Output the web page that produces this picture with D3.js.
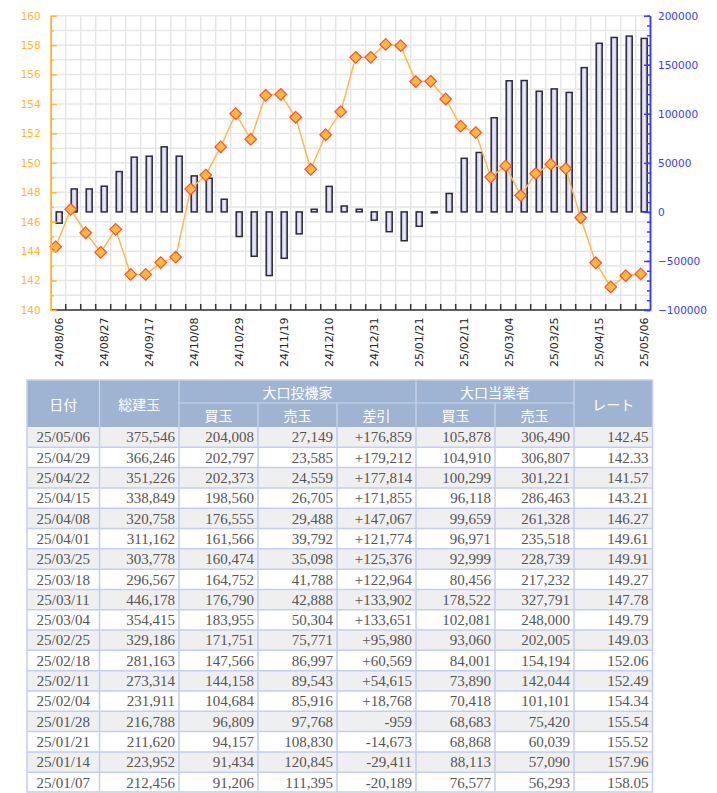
<!DOCTYPE html>
<html>
<head>
<meta charset="utf-8">
<script src="https://cdn.jsdelivr.net/npm/d3@7"></script>
<style>
body { margin: 0; background: #fff; }
svg { display: block; }
</style>
</head>
<body>
<svg id="chart" width="717" height="793"></svg>
<script>
var width = 717;
var height = 793;

// weekly dates shown on the chart (oldest first)
var weeks = ["24/08/06", "24/08/13", "24/08/20", "24/08/27", "24/09/03", "24/09/10", "24/09/17", "24/09/24",
             "24/10/01", "24/10/08", "24/10/15", "24/10/22", "24/10/29", "24/11/05", "24/11/12", "24/11/19",
             "24/11/26", "24/12/03", "24/12/10", "24/12/17", "24/12/24", "24/12/31", "25/01/07", "25/01/14",
             "25/01/21", "25/01/28", "25/02/04", "25/02/11", "25/02/18", "25/02/25", "25/03/04", "25/03/11",
             "25/03/18", "25/03/25", "25/04/01", "25/04/08", "25/04/15", "25/04/22", "25/04/29", "25/05/06"];

// weeks before the table
var earlyDiff = [-11500, 23400, 23400, 26200, 41100, 55800, 56800, 66300, 56800, 36700, 34300,
                 12900, -25100, -45200, -64900, -47300, -22400, 2700, 26000, 6000, 2700, -8400];
var earlyRate = [144.30, 146.84, 145.25, 143.92, 145.48, 142.42, 142.42, 143.22, 143.60, 148.22, 149.17,
                 151.08, 153.34, 151.60, 154.59, 154.66, 153.10, 149.56, 151.91, 153.48, 157.17, 157.17];

// table (newest first)
var tblDate = ["25/05/06", "25/04/29", "25/04/22", "25/04/15", "25/04/08", "25/04/01", "25/03/25", "25/03/18", "25/03/11",
               "25/03/04", "25/02/25", "25/02/18", "25/02/11", "25/02/04", "25/01/28", "25/01/21", "25/01/14", "25/01/07"];
var tblTotal = [375546, 366246, 351226, 338849, 320758, 311162, 303778, 296567, 446178,
                354415, 329186, 281163, 273314, 231911, 216788, 211620, 223952, 212456];
var tblSpecBuy = [204008, 202797, 202373, 198560, 176555, 161566, 160474, 164752, 176790,
                  183955, 171751, 147566, 144158, 104684, 96809, 94157, 91434, 91206];
var tblSpecSell = [27149, 23585, 24559, 26705, 29488, 39792, 35098, 41788, 42888,
                   50304, 75771, 86997, 89543, 85916, 97768, 108830, 120845, 111395];
var tblSpecDiff = [176859, 179212, 177814, 171855, 147067, 121774, 125376, 122964, 133902,
                   133651, 95980, 60569, 54615, 18768, -959, -14673, -29411, -20189];
var tblCommBuy = [105878, 104910, 100299, 96118, 99659, 96971, 92999, 80456, 178522,
                  102081, 93060, 84001, 73890, 70418, 68683, 68868, 88113, 76577];
var tblCommSell = [306490, 306807, 301221, 286463, 261328, 235518, 228739, 217232, 327791,
                   248000, 202005, 154194, 142044, 101101, 75420, 60039, 57090, 56293];
var tblRate = [142.45, 142.33, 141.57, 143.21, 146.27, 149.61, 149.91, 149.27, 147.78,
               149.79, 149.03, 152.06, 152.49, 154.34, 155.54, 155.52, 157.96, 158.05];

var diff = earlyDiff.concat(tblSpecDiff.slice().reverse());
var rate = earlyRate.concat(tblRate.slice().reverse());

var orange = "#ffb52e";
var blue = "#3a3aff";

var svg = d3.select("#chart");

// ---------- chart ----------
var plotLeft = 50.7, plotRight = 650.7, plotTop = 15.7, plotBottom = 310;

var x = d3.scaleBand().domain(weeks).range([plotLeft, plotRight]).padding(0);
var yL = d3.scaleLinear().domain([140, 160]).range([plotBottom, plotTop]);
var yR = d3.scaleLinear().domain([-100000, 200000]).range([plotBottom, plotTop]);

var defs = svg.append("defs");
var grad = defs.append("linearGradient").attr("id", "barfill")
    .attr("x1", "0").attr("x2", "1").attr("y1", "0").attr("y2", "0");
grad.append("stop").attr("offset", "0").attr("stop-color", "#a9a9d6");
grad.append("stop").attr("offset", "0.5").attr("stop-color", "#f2f2ff");
grad.append("stop").attr("offset", "1").attr("stop-color", "#a9a9d6");

// grid
var grid = svg.append("g").attr("class", "grid")
    .attr("stroke", "#e6e6e6").attr("stroke-width", 1.5);

grid.selectAll(".hgrid")
    .data(yL.ticks(20))
  .enter().append("line")
    .attr("x1", plotLeft).attr("x2", plotRight)
    .attr("y1", function(d) { return yL(d); })
    .attr("y2", function(d) { return yL(d); });

grid.selectAll(".vgrid")
    .data(weeks.slice(1))
  .enter().append("line")
    .attr("x1", function(d) { return x(d); })
    .attr("x2", function(d) { return x(d); })
    .attr("y1", plotTop).attr("y2", plotBottom);

// bars (difference, right axis)
svg.append("g").selectAll("rect")
    .data(diff)
  .enter().append("rect")
    .attr("x", function(d, i) { return x(weeks[i]) + 5.5; })
    .attr("width", 6)
    .attr("y", function(d) { return yR(Math.max(d, 0)); })
    .attr("height", function(d) { return Math.abs(yR(d) - yR(0)); })
    .attr("fill", "url(#barfill)")
    .attr("stroke", "#2b2b38")
    .attr("stroke-width", 1.5);

// rate line (left axis)
var line = d3.line()
    .x(function(d, i) { return x(weeks[i]) + 5; })
    .y(function(d) { return yL(d); });

svg.append("path")
    .datum(rate)
    .attr("d", line)
    .attr("fill", "none")
    .attr("stroke", "#ffb84d")
    .attr("stroke-width", 1.5);

svg.append("g").selectAll("path")
    .data(rate)
  .enter().append("path")
    .attr("transform", function(d, i) { return "translate(" + (x(weeks[i]) + 5) + "," + yL(d) + ")"; })
    .attr("d", "M0,-5.8L5.8,0L0,5.8L-5.8,0Z")
    .attr("fill", "#ffbb35")
    .attr("stroke", "#ff4b3a")
    .attr("stroke-width", 1.2);

// x axis
var xAxis = svg.append("g").attr("class", "x-axis");
xAxis.append("line")
    .attr("x1", plotLeft).attr("x2", plotRight)
    .attr("y1", plotBottom).attr("y2", plotBottom)
    .attr("stroke", "#333").attr("stroke-width", 1.5);

xAxis.selectAll(".tick")
    .data(weeks.slice(1))
  .enter().append("line")
    .attr("x1", function(d) { return x(d); })
    .attr("x2", function(d) { return x(d); })
    .attr("y1", plotBottom - 6).attr("y2", plotBottom)
    .attr("stroke", "#333").attr("stroke-width", 1.5);

xAxis.selectAll("text")
    .data(weeks.filter(function(d, i) { return i % 3 == 0; }))
  .enter().append("text")
    .attr("transform", function(d) { return "translate(" + (x(d) + 8.5) + "," + (plotBottom + 7.5) + ") rotate(-90)"; })
    .attr("dy", "0.35em")
    .attr("text-anchor", "end")
    .attr("font-family", "DejaVu Sans")
    .attr("font-size", "11px")
    .attr("fill", "#222")
    .text(function(d) { return d; });

// left axis (rate)
function styleAxis(g, color) {
    g.select(".domain").attr("stroke", color).attr("stroke-width", 1.5);
    g.selectAll(".tick line").attr("stroke", color).attr("stroke-width", 1.5);
    g.selectAll(".tick text").attr("fill", color);
    g.attr("font-family", "DejaVu Sans").attr("font-size", "10.5px");
}

svg.append("g")
    .attr("transform", "translate(" + plotLeft + ",0)")
    .call(d3.axisLeft(yL).tickValues(d3.range(141, 160, 2)).tickSize(-3).tickSizeOuter(0).tickFormat(""))
    .call(styleAxis, orange);

svg.append("g")
    .attr("transform", "translate(" + plotLeft + ",0)")
    .call(d3.axisLeft(yL).tickValues(d3.range(140, 161, 2)).tickSize(-6).tickSizeOuter(0).tickPadding(10))
    .call(styleAxis, orange);

// right axis (difference)
svg.append("g")
    .attr("transform", "translate(" + (plotRight - 0.7) + ",0)")
    .call(d3.axisRight(yR).ticks(30).tickSize(-3).tickSizeOuter(0).tickFormat(""))
    .call(styleAxis, blue);

svg.append("g")
    .attr("transform", "translate(" + (plotRight - 0.7) + ",0)")
    .call(d3.axisRight(yR).tickValues(d3.range(-100000, 200001, 50000)).tickSize(-6).tickSizeOuter(0).tickPadding(8).tickFormat(d3.format("d")))
    .call(styleAxis, blue);

// ---------- table ----------
var colEdges = [27, 99.5, 179, 258, 337, 416, 495, 574, 652.5];
var headTop = 380, headMid = 403, headBottom = 427;
var rowH = (792.5 - headBottom) / tblDate.length;

var fmtLocale = d3.formatLocale({ decimal: ".", thousands: ",", grouping: [3], currency: ["", ""], minus: "-" });
var fmtInt = fmtLocale.format(",");
var fmtDiff = fmtLocale.format("+,");
var fmtRate = fmtLocale.format(".2f");

var table = svg.append("g").attr("class", "table");

table.append("rect")
    .attr("x", colEdges[0]).attr("y", headTop)
    .attr("width", colEdges[8] - colEdges[0]).attr("height", headBottom - headTop)
    .attr("fill", "#9fb4d2");

// header separators
var hsep = table.append("g").attr("stroke", "#c9d5ec").attr("stroke-width", 1.2);
[1, 2, 5, 7].forEach(function(c) {
    hsep.append("line").attr("x1", colEdges[c]).attr("x2", colEdges[c]).attr("y1", headTop).attr("y2", headBottom);
});
[3, 4, 6].forEach(function(c) {
    hsep.append("line").attr("x1", colEdges[c]).attr("x2", colEdges[c]).attr("y1", headMid).attr("y2", headBottom);
});
hsep.append("line").attr("x1", colEdges[2]).attr("x2", colEdges[7]).attr("y1", headMid).attr("y2", headMid);

var headers = [
    { t: "日付", c0: 0, c1: 1, y: (headTop + headBottom) / 2 },
    { t: "総建玉", c0: 1, c1: 2, y: (headTop + headBottom) / 2 },
    { t: "大口投機家", c0: 2, c1: 5, y: (headTop + headMid) / 2 },
    { t: "大口当業者", c0: 5, c1: 7, y: (headTop + headMid) / 2 },
    { t: "レート", c0: 7, c1: 8, y: (headTop + headBottom) / 2 },
    { t: "買玉", c0: 2, c1: 3, y: (headMid + headBottom) / 2 },
    { t: "売玉", c0: 3, c1: 4, y: (headMid + headBottom) / 2 },
    { t: "差引", c0: 4, c1: 5, y: (headMid + headBottom) / 2 },
    { t: "買玉", c0: 5, c1: 6, y: (headMid + headBottom) / 2 },
    { t: "売玉", c0: 6, c1: 7, y: (headMid + headBottom) / 2 }
];

table.selectAll(".head")
    .data(headers)
  .enter().append("text")
    .attr("x", function(d) { return (colEdges[d.c0] + colEdges[d.c1]) / 2; })
    .attr("y", function(d) { return d.y + 1.5; })
    .attr("dy", "0.35em")
    .attr("text-anchor", "middle")
    .attr("font-family", "Noto Sans CJK JP")
    .attr("font-size", "14px")
    .attr("fill", "#fff")
    .text(function(d) { return d.t; });

// body rows
var rows = table.selectAll(".row")
    .data(tblDate)
  .enter().append("g")
    .attr("transform", function(d, i) { return "translate(0," + (headBottom + i * rowH) + ")"; });

rows.append("rect")
    .attr("x", colEdges[0]).attr("width", colEdges[8] - colEdges[0])
    .attr("height", rowH)
    .attr("fill", function(d, i) { return i % 2 == 0 ? "#efefef" : "#fff"; });

var cellText = [
    function(i) { return tblDate[i]; },
    function(i) { return fmtInt(tblTotal[i]); },
    function(i) { return fmtInt(tblSpecBuy[i]); },
    function(i) { return fmtInt(tblSpecSell[i]); },
    function(i) { return fmtDiff(tblSpecDiff[i]); },
    function(i) { return fmtInt(tblCommBuy[i]); },
    function(i) { return fmtInt(tblCommSell[i]); },
    function(i) { return fmtRate(tblRate[i]); }
];

cellText.forEach(function(f, c) {
    rows.append("text")
        .attr("x", c == 0 ? (colEdges[0] + colEdges[1]) / 2 : colEdges[c + 1] - 4)
        .attr("y", rowH / 2)
        .attr("dy", "0.35em")
        .attr("text-anchor", c == 0 ? "middle" : "end")
        .attr("font-family", "Liberation Serif")
        .attr("font-size", "15px")
        .attr("fill", "#555")
        .text(function(d, i) { return f(i); });
});

// body grid lines
var bgrid = table.append("g").attr("stroke", "#c3cdf6").attr("stroke-width", 1.5).attr("fill", "none");
d3.range(1, tblDate.length).forEach(function(i) {
    bgrid.append("line").attr("x1", colEdges[0]).attr("x2", colEdges[8])
        .attr("y1", headBottom + i * rowH).attr("y2", headBottom + i * rowH);
});
colEdges.slice(1, 8).forEach(function(cx) {
    bgrid.append("line").attr("x1", cx).attr("x2", cx).attr("y1", headBottom).attr("y2", 792.5);
});
bgrid.append("rect")
    .attr("x", colEdges[0]).attr("y", headTop)
    .attr("width", colEdges[8] - colEdges[0]).attr("height", 792.5 - headTop - 0.5);
</script>
</body>
</html>
